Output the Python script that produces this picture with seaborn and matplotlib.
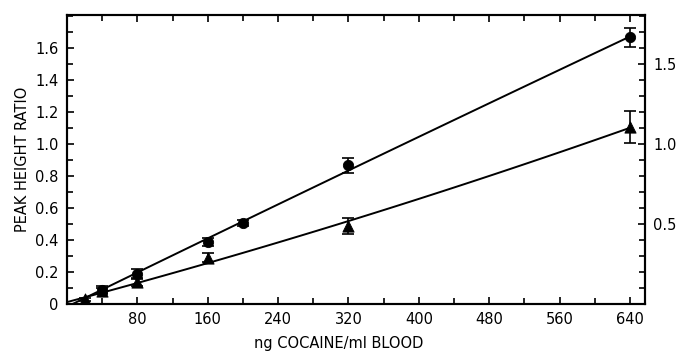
import matplotlib
matplotlib.use("Agg")
import matplotlib.pyplot as plt
import seaborn as sns
import numpy as np
import pandas as pd
from matplotlib.ticker import MultipleLocator, FixedLocator

# Data
circle_x = [40, 80, 160, 200, 320, 640]
circle_y = [0.09, 0.19, 0.385, 0.505, 0.865, 1.665]
circle_err = [0.02, 0.03, 0.025, 0.02, 0.045, 0.06]

tri_x = [20, 40, 80, 160, 320, 640]
tri_y = [0.03, 0.08, 0.135, 0.29, 0.49, 1.105]
tri_err = [0.01, 0.02, 0.02, 0.03, 0.05, 0.10]

# calibration curve anchor (curves start at the origin)
origin_x = [0]
origin_y = [0.0]

x_ticks = [80, 160, 240, 320, 400, 480, 560, 640]
y_ticks = [0, 0.2, 0.4, 0.6, 0.8, 1.0, 1.2, 1.4, 1.6]
y_tick_labels = ["0", "0.2", "0.4", "0.6", "0.8", "1.0", "1.2", "1.4", "1.6"]
right_ticks = [0.5, 1.0, 1.5]
right_tick_labels = ["0.5", "1.0", "1.5"]

sns.set_theme(style="ticks")
plt.rcParams["font.family"] = ["DejaVu Sans"]

fig = plt.figure(figsize=(6.79, 3.56), dpi=100)
ax = fig.add_axes([0.0987, 0.146, 0.851, 0.812])

df_c = pd.DataFrame({"x": origin_x + circle_x, "y": origin_y + circle_y})
df_t = pd.DataFrame({"x": origin_x + tri_x, "y": origin_y + tri_y})
sns.regplot(data=df_c, x="x", y="y", order=2, ci=None, scatter=False, truncate=True,
            line_kws=dict(color="black", lw=1.4), ax=ax)
sns.regplot(data=df_t, x="x", y="y", order=2, ci=None, scatter=False, truncate=True,
            line_kws=dict(color="black", lw=1.4), ax=ax)

ax.errorbar(circle_x, circle_y, yerr=circle_err, fmt="none", ecolor="black",
            elinewidth=1.2, capsize=4, capthick=1.2, zorder=3)
ax.errorbar(tri_x, tri_y, yerr=tri_err, fmt="none", ecolor="black",
            elinewidth=1.2, capsize=4, capthick=1.2, zorder=3)
sns.scatterplot(x=circle_x, y=circle_y, marker="o", s=55, color="black",
                edgecolor="black", ax=ax, zorder=4)
sns.scatterplot(x=tri_x, y=tri_y, marker="^", s=65, color="black",
                edgecolor="black", ax=ax, zorder=4)

ax.set_xlim(0, 657)
ax.set_ylim(0, 1.805)
ax.xaxis.set_major_locator(FixedLocator(x_ticks))
ax.xaxis.set_minor_locator(MultipleLocator(40))
ax.set_xticklabels([str(v) for v in x_ticks])
ax.yaxis.set_major_locator(FixedLocator(y_ticks))
ax.set_yticklabels(y_tick_labels)
ax.yaxis.set_minor_locator(MultipleLocator(0.1))

ax.tick_params(axis="both", which="both", direction="in", top=True, right=False,
               color="black", labelsize=10.5, labelcolor="black", width=1.2)
ax.tick_params(axis="both", which="major", length=5, pad=6)
ax.tick_params(axis="both", which="minor", length=4)
for sp in ax.spines.values():
    sp.set_visible(True)
    sp.set_linewidth(1.5)
    sp.set_color("black")

ax2 = ax.twinx()
ax2.set_ylim(0, 1.805)
ax2.yaxis.set_major_locator(FixedLocator(right_ticks))
ax2.set_yticklabels(right_tick_labels)
ax2.yaxis.set_minor_locator(MultipleLocator(0.1))
ax2.tick_params(axis="y", which="both", direction="in", color="black",
                labelsize=10.5, labelcolor="black", width=1.2)
ax2.tick_params(axis="y", which="major", length=5, pad=6)
ax2.tick_params(axis="y", which="minor", length=4)
for sp in ax2.spines.values():
    sp.set_linewidth(1.5)
    sp.set_color("black")

ax.set_xlabel("ng COCAINE/ml BLOOD", fontsize=10.5, color="black", labelpad=6)
ax.set_ylabel("PEAK HEIGHT RATIO", fontsize=10.5, color="black", labelpad=4)
ax.xaxis.set_label_coords(0.47, -0.11)

fig.savefig("out.png", dpi=100)
